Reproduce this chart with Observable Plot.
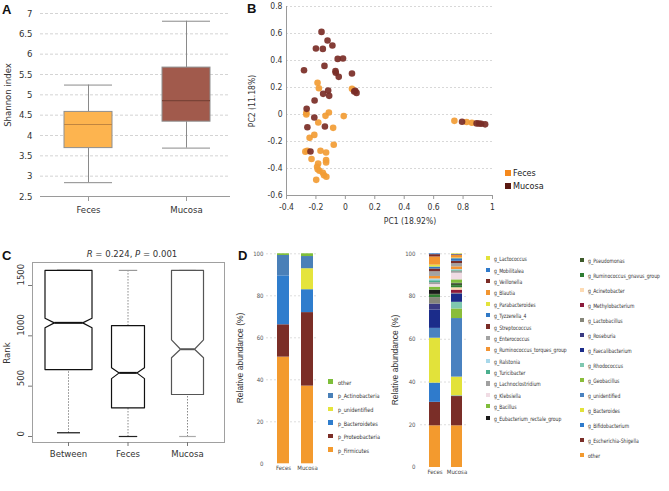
<!DOCTYPE html>
<html><head><meta charset="utf-8">
<script src="https://cdn.jsdelivr.net/npm/d3@7"></script>
<script src="https://cdn.jsdelivr.net/npm/@observablehq/plot@0.6"></script>
<style>
body{margin:0;background:#fff;width:669px;height:491px;overflow:hidden;position:relative;font-family:"DejaVu Sans Condensed","DejaVu Sans",sans-serif;color:#333;}
.pn{position:absolute;}
.lbl{position:absolute;white-space:nowrap;line-height:1;}
.letter{position:absolute;font:bold 13px "Liberation Sans",Arial,sans-serif;color:#111;line-height:1;}
.sw{position:absolute;}
</style></head><body>
<script>
// ---------- Panel A: Shannon index ----------
const shannonGroups = ["Feces", "Mucosa"];
const shannonLow    = [2.84, 3.69];
const shannonQ1     = [3.69, 4.34];
const shannonMedian = [4.27, 4.86];
const shannonQ3     = [4.58, 5.67];
const shannonHigh   = [5.24, 6.81];
const shannonTicks  = [2.5, 3, 3.5, 4, 4.5, 5, 5.5, 6, 6.5, 7];

// ---------- Panel B: PCoA ----------
const pcoaFecesPC1 = [-0.189, -0.180, 0.045, -0.265, -0.265, -0.112, -0.135, -0.011, -0.184, -0.083, -0.243, -0.211, -0.079, -0.259, -0.272, -0.230, -0.169, -0.131, -0.131, -0.131, -0.185, -0.192, -0.176, -0.188, -0.153, -0.145, -0.129, -0.198, 0.741, 0.824, 0.860];
const pcoaFecesPC2 = [0.235, 0.195, 0.190, 0.012, 0.000, 0.015, -0.010, -0.012, -0.059, -0.099, -0.173, -0.151, -0.224, -0.269, -0.275, -0.330, -0.269, -0.281, -0.338, -0.355, -0.363, -0.387, -0.417, -0.405, -0.432, -0.450, -0.461, -0.484, -0.047, -0.056, -0.061];
const pcoaMucosaPC1 = [-0.162, -0.121, -0.200, -0.153, -0.088, -0.052, -0.016, -0.142, -0.067, -0.065, -0.045, -0.281, 0.045, 0.067, 0.076, 0.060, -0.117, -0.151, -0.110, -0.209, -0.263, -0.211, -0.258, -0.139, -0.237, 0.793, 0.892, 0.908, 0.923, 0.950];
const pcoaMucosaPC2 = [0.612, 0.548, 0.489, 0.486, 0.511, 0.412, 0.415, 0.360, 0.321, 0.309, 0.279, 0.328, 0.304, 0.175, 0.160, 0.170, 0.178, 0.153, 0.138, 0.104, 0.042, -0.022, -0.094, -0.089, -0.274, -0.054, -0.066, -0.067, -0.068, -0.073];
const pcoaXTicks = [-0.4, -0.2, 0, 0.2, 0.4, 0.6, 0.8, 1];
const pcoaYTicks = [-0.6, -0.4, -0.2, 0, 0.2, 0.4, 0.6, 0.8];

// ---------- Panel C: ANOSIM ranks ----------
const anosimGroups   = ["Between", "Feces", "Mucosa"];
const anosimLow      = [37, 0, 0];
const anosimQ1       = [665, 285, 417];
const anosimNotchLo  = [1080, 575, 782];
const anosimMedian   = [1129, 632, 867];
const anosimNotchHi  = [1175, 682, 960];
const anosimQ3       = [1650, 1102, 1650];
const anosimHigh     = [1650, 1650, 1650];
const rankTicks      = [0, 500, 1000, 1500];

// ---------- Panel D: relative abundance ----------
const abundSamples = ["Feces", "Mucosa"];
const phyla = ["p_Firmicutes", "p_Proteobacteria", "p_Bacteroidetes", "p_unidentified", "p_Actinobacteria", "other"];
const phylaFeces  = [50.8, 15.4, 23.3, 0.0, 9.7, 0.8];
const phylaMucosa = [37.0, 35.0, 10.9, 10.0, 5.8, 1.3];
const genera = ["other", "g_Escherichia-Shigella", "g_Bifidobacterium", "g_Bacteroides", "g_unidentified", "g_Geobacillus", "g_Rhodococcus", "g_Faecalibacterium", "g_Roseburia", "g_Lactobacillus", "g_Methylobacterium", "g_Acinetobacter", "g_Ruminococcus_gnavus_group", "g_Pseudomonas", "g_Eubacterium_rectale_group", "g_Bacillus", "g_Klebsiella", "g_Lachnoclostridium", "g_Turicibacter", "g_Ralstonia", "g_Ruminococcus_torques_group", "g_Enterococcus", "g_Streptococcus", "g_Tyzzerella_4", "g_Parabacteroides", "g_Blautia", "g_Veillonella", "g_Mobilitalea", "g_Lactococcus"];
const generaFeces  = [19.5, 11.0, 9.0, 21.0, 4.6, 0.0, 0.0, 8.6, 2.8, 3.0, 0.0, 0.0, 1.1, 0.4, 2.0, 1.4, 1.2, 0.9, 0.9, 0.8, 1.2, 2.2, 1.3, 0.9, 0.9, 3.8, 1.1, 0.4, 0.0];
const generaMucosa = [19.5, 13.7, 0.3, 8.8, 27.4, 4.5, 3.1, 3.7, 0.3, 0.2, 1.5, 1.1, 1.0, 0.8, 0.3, 1.6, 3.1, 1.0, 0.3, 0.4, 1.3, 1.5, 1.1, 1.2, 0.3, 1.2, 0.3, 0.2, 0.3];
const abundTicks = [0, 20, 40, 60, 80, 100];

// ---------- styles ----------
const shannonFill = ["#FDB44F", "#A15A4C"];
const shannonMedianStroke = ["#C08540", "#7A4337"];
const pcoaColors = ["#F29C34", "#7A2D26"];
const pcoaLegendColors = ["#F5891C", "#5A1912"];
const anosimStroke = ["#111", "#111", "#555"];
const anosimCapStroke = ["#111", "#222", "#aaa"];
const anosimHalfWidth = [0.395, 0.277, 0.269];
const anosimNotchInset = [0.157, 0.129, 0.151];
const anosimCapHalf = [0.193, 0.155, 0.14];
const phylaColors = ["#F39A2E", "#7B2E27", "#2F7DCD", "#E5E43C", "#4A80B8", "#7EBE3A"];
const generaColors = ["#F39A2E", "#7A2E28", "#2F7BCC", "#E2E23A", "#4A82C0", "#8ABD3A", "#7FC8B0", "#1B2C8A", "#3A3A82", "#86867A", "#8B1A3A", "#FDDBB4", "#2E7D32", "#3D5A2A", "#1A1A1A", "#80BD3C", "#F0DCE4", "#A0A0A0", "#4BAF8E", "#A8D8EA", "#F39432", "#A3A3A3", "#7A2D27", "#3079C6", "#E3E33C", "#F29530", "#7B2C26", "#2F7ACB", "#E2E23A"];

const condensed = '"DejaVu Sans Condensed","DejaVu Sans",sans-serif';
const narrow = '"Liberation Sans Narrow","Arial Narrow","DejaVu Sans Condensed",sans-serif';

function place(node, left, top) {
  const d = document.createElement("div");
  d.className = "pn"; d.style.left = left + "px"; d.style.top = top + "px";
  d.appendChild(node); document.body.appendChild(d);
}
function label(html, x, y, css = "", rotate = 0) {
  const d = document.createElement("div");
  d.className = "lbl"; d.innerHTML = html;
  d.style.cssText += `left:${x}px;top:${y}px;transform:translate(-50%,-50%) rotate(${rotate}deg);` + css;
  document.body.appendChild(d);
}
function letter(t, x, y) {
  const d = document.createElement("div");
  d.className = "letter"; d.textContent = t; d.style.left = x + "px"; d.style.top = y + "px";
  document.body.appendChild(d);
}
function legendItem(color, text, sx, cy, size, tx, css, squeeze = 1) {
  const s = document.createElement("div");
  s.className = "sw";
  s.style.cssText = `left:${sx}px;top:${cy - size / 2}px;width:${size}px;height:${size}px;background:${color};`;
  document.body.appendChild(s);
  const t = document.createElement("div");
  t.className = "lbl"; t.textContent = text;
  t.style.cssText += `left:${tx}px;top:${cy}px;transform-origin:0 50%;transform:translateY(-50%) scaleX(${squeeze});` + css;
  document.body.appendChild(t);
}
const fmt1 = d => String(Math.round(d * 10) / 10);

// ================= Panel A =================
const rowsA = shannonGroups.map((g, i) => ({group: g, low: shannonLow[i], q1: shannonQ1[i], median: shannonMedian[i], q3: shannonQ3[i], high: shannonHigh[i]}));
const plotA = Plot.plot({
  width: 232, height: 222, marginLeft: 40, marginRight: 2, marginTop: 13, marginBottom: 26,
  x: {type: "band", domain: shannonGroups, range: [14, 260], padding: 0.51},
  y: {domain: [2.5, 7]},
  color: {domain: shannonGroups, range: shannonFill},
  style: {background: "transparent", fontFamily: condensed, fontSize: "9.5px", color: "#333", overflow: "visible"},
  marks: [
    Plot.gridY(shannonTicks.slice(1), {stroke: "#d4d4d4", strokeOpacity: 1, strokeDasharray: "3,2"}),
    Plot.axisY({ticks: shannonTicks, tickSize: 0, tickPadding: 8, tickFormat: d => String(d), label: null}),
    Plot.ruleX(rowsA, {x: "group", y1: "low", y2: "q1", stroke: "#8a8a8a"}),
    Plot.ruleX(rowsA, {x: "group", y1: "q3", y2: "high", stroke: "#8a8a8a"}),
    Plot.tickY(rowsA, {x: "group", y: "low", stroke: "#8a8a8a"}),
    Plot.tickY(rowsA, {x: "group", y: "high", stroke: "#8a8a8a"}),
    Plot.barY(rowsA, {x: "group", y1: "q1", y2: "q3", fill: "group", stroke: "#8f8f8f"}),
    ...rowsA.map((r, i) => Plot.tickY([r], {x: "group", y: "median", stroke: shannonMedianStroke[i], strokeWidth: 1.2})),
    Plot.ruleY([2.5], {stroke: "#9a9a9a"}),
    Plot.axisX({tickSize: 5, tickPadding: 5, label: null, stroke: "#9a9a9a"})
  ]
});
place(plotA, 0, 0);
letter("A", 2, 3);
label("Shannon index", 6.5, 95, `font:9.5px ${condensed};`, -90);

// ================= Panel B =================
const pointsB = [
  ...pcoaFecesPC1.map((v, i) => ({group: "Feces", pc1: v, pc2: pcoaFecesPC2[i]})),
  ...pcoaMucosaPC1.map((v, i) => ({group: "Mucosa", pc1: v, pc2: pcoaMucosaPC2[i]}))
];
const plotB = Plot.plot({
  width: 449, height: 240, marginLeft: 66, marginRight: 177, marginTop: 6, marginBottom: 45,
  x: {domain: [-0.4, 1]},
  y: {domain: [-0.6, 0.8]},
  color: {domain: ["Feces", "Mucosa"], range: pcoaColors},
  style: {background: "transparent", fontFamily: condensed, fontSize: "8.5px", color: "#333", overflow: "visible"},
  marks: [
    Plot.gridY(pcoaYTicks.slice(1), {stroke: "#d8d8d8", strokeOpacity: 1, strokeDasharray: "2,2"}),
    Plot.ruleX([-0.4], {stroke: "#9a9a9a"}),
    Plot.ruleY([-0.6], {stroke: "#9a9a9a"}),
    Plot.axisY({ticks: pcoaYTicks, tickSize: 0, tickPadding: 4, tickFormat: fmt1, label: null}),
    Plot.axisX({ticks: pcoaXTicks, tickSize: 4, tickPadding: 4, tickFormat: fmt1, label: null, stroke: "#9a9a9a"}),
    Plot.dot(pointsB, {x: "pc1", y: "pc2", fill: "group", r: 3.3, fillOpacity: 0.92})
  ]
});
place(plotB, 220, 0);
letter("B", 247, 2);
label("PC1 (18.92%)", 410, 221, `font:8.5px ${condensed};`);
label("PC2 (11.18%)", 252, 101, `font:8.5px ${condensed};`, -90);
["Feces", "Mucosa"].forEach((g, i) => legendItem(pcoaLegendColors[i], g, 505, 173 + i * 13, 5.5, 513, `font:9px ${condensed};color:#222;`));

// ================= Panel C =================
const rowsC = anosimGroups.map((g, i) => ({group: g, c: i + 1, w: anosimHalfWidth[i], n: anosimNotchInset[i], cap: anosimCapHalf[i],
  low: anosimLow[i], q1: anosimQ1[i], nlo: anosimNotchLo[i], median: anosimMedian[i], nhi: anosimNotchHi[i], q3: anosimQ3[i], high: anosimHigh[i]}));
const outline = r => [[r.c - r.w, r.q1], [r.c - r.w, r.nlo], [r.c - r.w + r.n, r.median], [r.c - r.w, r.nhi], [r.c - r.w, r.q3],
  [r.c + r.w, r.q3], [r.c + r.w, r.nhi], [r.c + r.w - r.n, r.median], [r.c + r.w, r.nlo], [r.c + r.w, r.q1], [r.c - r.w, r.q1]]
  .map(([x, y]) => ({group: r.group, x, y}));
const plotC = Plot.plot({
  width: 232, height: 251, marginLeft: 32, marginRight: 8, marginTop: 22, marginBottom: 49,
  x: {domain: [1, 3], range: [68, 187]},
  y: {domain: [0, 1500], range: [196, 45]},
  style: {background: "transparent", fontFamily: condensed, fontSize: "9.5px", color: "#333", overflow: "visible"},
  marks: [
    Plot.frame({stroke: "#a0a0a0"}),
    Plot.link(rowsC, {x1: "c", x2: "c", y1: "low", y2: "q1", stroke: "#888", strokeDasharray: "1.5,1.5"}),
    Plot.link(rowsC, {x1: "c", x2: "c", y1: "q3", y2: "high", stroke: "#888", strokeDasharray: "1.5,1.5"}),
    ...rowsC.map((r, i) => Plot.link([r], {x1: d => d.c - d.cap, x2: d => d.c + d.cap, y1: "low", y2: "low", stroke: anosimCapStroke[i], strokeWidth: 1.2})),
    ...rowsC.map((r, i) => Plot.link([r], {x1: d => d.c - d.cap, x2: d => d.c + d.cap, y1: "high", y2: "high", stroke: i === 1 ? "#999" : anosimCapStroke[i], strokeWidth: 1.2})),
    ...rowsC.map((r, i) => Plot.line(outline(r), {x: "x", y: "y", stroke: anosimStroke[i], strokeWidth: 1.2})),
    ...rowsC.map((r, i) => Plot.link([r], {x1: d => d.c - d.w + d.n, x2: d => d.c + d.w - d.n, y1: "median", y2: "median", stroke: anosimStroke[i], strokeWidth: 2})),
    Plot.axisY({ticks: rankTicks, tickSize: 4, tickFormat: () => "", label: null, stroke: "#777"}),
    Plot.text(rankTicks, {y: d => d, text: d => String(d), frameAnchor: "left", dx: -12, rotate: -90, fill: "#333"}),
    Plot.axisX({ticks: [1, 2, 3], tickFormat: d => anosimGroups[d - 1], tickSize: 4, tickPadding: 4, label: null, stroke: "#777"})
  ]
});
place(plotC, 0, 240);
letter("C", 2, 249);
label("<i>R</i> = 0.224, <i>P</i> = 0.001", 132, 253, `font:9.5px ${condensed};`);
label("Rank", 6, 353, `font:9.5px ${condensed};`, -90);

// ================= Panel D =================
function stackRows(samples, taxa, valueLists) {
  const rows = [];
  samples.forEach((s, si) => {
    let acc = 0;
    taxa.forEach((t, ti) => { const v = valueLists[si][ti]; rows.push({sample: s, taxon: t, y1: acc, y2: acc + v}); acc += v; });
  });
  return rows;
}
const phylaRows = stackRows(abundSamples, phyla, [phylaFeces, phylaMucosa]);
const plotD1 = Plot.plot({
  width: 95, height: 240, marginLeft: 36, marginRight: 7, marginTop: 13, marginBottom: 17,
  x: {type: "band", domain: abundSamples, range: [34.4, 96.6], padding: 0.498},
  y: {domain: [0, 100], range: [223.3, 13.3]},
  color: {domain: phyla, range: phylaColors},
  style: {background: "transparent", fontFamily: narrow, fontSize: "6px", color: "#444", overflow: "visible"},
  marks: [
    Plot.gridY(abundTicks.slice(1), {stroke: "#dddddd", strokeOpacity: 1, strokeDasharray: "2,2"}),
    Plot.axisY({ticks: abundTicks, tickSize: 0, tickPadding: 3, label: null, fill: "#555"}),
    Plot.barY(phylaRows, {x: "sample", y1: "y1", y2: "y2", fill: "taxon"}),
    Plot.axisX({tickSize: 0, tickPadding: 2, label: null})
  ]
});
place(plotD1, 230, 240);
letter("D", 238, 249);
label("Relative abundance (%)", 240, 358, `font:8.5px "Liberation Sans",Arial,sans-serif;color:#333;`, -90);
phyla.slice().reverse().forEach((p, i) => legendItem(phylaColors[phyla.indexOf(p)], p, 328, 381.7 + i * 13.6, 4.5, 338, `font:6px ${narrow};color:#333;`, 0.92));

const generaRows = stackRows(abundSamples, genera, [generaFeces, generaMucosa]);
const plotD2 = Plot.plot({
  width: 80, height: 251, marginLeft: 20, marginRight: 13, marginTop: 13, marginBottom: 24,
  x: {type: "band", domain: abundSamples, range: [16.6, 73.7], padding: 0.515},
  y: {domain: [0, 100], range: [227, 13.3]},
  color: {domain: genera, range: generaColors},
  style: {background: "transparent", fontFamily: narrow, fontSize: "6px", color: "#444", overflow: "visible"},
  marks: [
    Plot.gridY(abundTicks.slice(1), {stroke: "#dddddd", strokeOpacity: 1, strokeDasharray: "2,2"}),
    Plot.axisY({ticks: abundTicks, tickSize: 0, tickPadding: 5, label: null, fill: "#555"}),
    Plot.barY(generaRows, {x: "sample", y1: "y1", y2: "y2", fill: "taxon"}),
    Plot.axisX({tickSize: 0, tickPadding: 2, label: null})
  ]
});
place(plotD2, 400, 240);
label("Relative abundance (%)", 395, 360, `font:8.5px "Liberation Sans",Arial,sans-serif;color:#333;`, -90);
const legendOrder = genera.slice().reverse();
legendOrder.forEach((g, i) => {
  const col = genera.indexOf(g);
  if (i < 15) legendItem(generaColors[col], g, 486, 258.3 + i * 11.38, 4.2, 494, `font:6px ${narrow};color:#333;`, 0.84);
  else legendItem(generaColors[col], g, 580, 260 + (i - 15) * 15, 4.2, 588, `font:6px ${narrow};color:#333;`, 0.84);
});
</script>
</body></html>
